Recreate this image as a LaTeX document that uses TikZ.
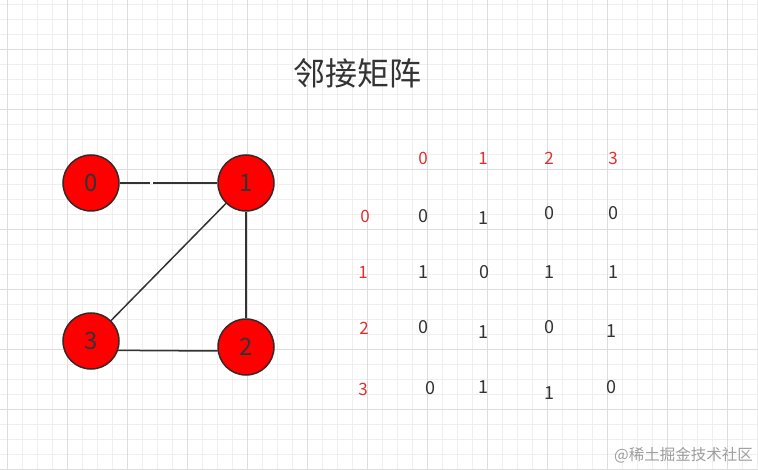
\documentclass[tikz,border=0pt]{standalone}
\usepackage{fontspec}
\setmainfont{Noto Sans CJK SC}
\newfontfamily\cjk{Noto Sans CJK SC}
\definecolor{minorgrid}{HTML}{EFEFEF}
\definecolor{majorgrid}{HTML}{DDDDDD}
\definecolor{ink}{HTML}{333333}
\definecolor{lab}{HTML}{E03030}
\definecolor{rim}{HTML}{3A2626}
\tikzset{
  vertex/.style={circle,fill=red,draw=rim,line width=1.5pt,minimum size=56pt,inner sep=0pt,text=ink,font=\fontsize{24}{24}\selectfont},
  edge/.style={draw=ink,line width=1.5pt},
  hdr/.style={text=lab,font=\fontsize{17}{17}\selectfont,inner sep=0pt},
  val/.style={text=ink,font=\fontsize{18}{18}\selectfont,inner sep=0pt}
}
\begin{document}
\begin{tikzpicture}[x=1pt,y=-1pt]
\useasboundingbox[fill=white] (0,0) rectangle (758,470);
% grid
\foreach \i in {0,...,50} {
  \draw[minorgrid,line width=0.8pt] ({7+15*\i},0) -- ({7+15*\i},470);
}
\foreach \j in {0,...,31} {
  \draw[minorgrid,line width=0.8pt] (0,{4+15*\j}) -- (758,{4+15*\j});
}
\foreach \i in {0,...,12} {
  \draw[majorgrid,line width=0.9pt] ({7+60*\i},0) -- ({7+60*\i},470);
}
\foreach \j in {0,...,7} {
  \draw[majorgrid,line width=0.9pt] (0,{49+60*\j}) -- (758,{49+60*\j});
}
% title
\node[text=ink,font=\cjk\fontsize{32}{32}\selectfont,inner sep=0pt] (title) at (357,73) {邻接矩阵};
% graph
\node[vertex] (n0) at (91,183) {0};
\node[vertex] (n1) at (246,183) {1};
\node[vertex] (n3) at (91,341) {3};
\node[vertex] (n2) at (246,347) {2};
\coordinate (g1) at (150,183);
\coordinate (g2) at (153,183);
\draw[edge] (n0) -- (g1);
\draw[edge] (g2) -- (n1);
\draw[edge] (n1) -- (n3);
\draw[edge] (n1.south) -- (n2.north);
\draw[edge] (n3.-19) -- (n2.188);
% matrix headers
\node[hdr] (c0) at (423,158) {0};
\node[hdr] (c1) at (483,158) {1};
\node[hdr] (c2) at (549,158) {2};
\node[hdr] (c3) at (613,158) {3};
\node[hdr] (r0) at (365,216) {0};
\node[hdr] (r1) at (363,272) {1};
\node[hdr] (r2) at (364,328) {2};
\node[hdr] (r3) at (363,389) {3};
% values
\node[val] (v00) at (423,216) {0};
\node[val] (v01) at (483,218) {1};
\node[val] (v02) at (549,213) {0};
\node[val] (v03) at (613,213) {0};
\node[val] (v10) at (423,272) {1};
\node[val] (v11) at (484,272) {0};
\node[val] (v12) at (549,272) {1};
\node[val] (v13) at (613,272) {1};
\node[val] (v20) at (423,327) {0};
\node[val] (v21) at (483,332) {1};
\node[val] (v22) at (549,327) {0};
\node[val] (v23) at (611,331) {1};
\node[val] (v30) at (430,388) {0};
\node[val] (v31) at (483,387) {1};
\node[val] (v32) at (549,393) {1};
\node[val] (v33) at (611,387) {0};
% watermark
\node[text=black!38,font=\cjk\fontsize{15.5}{16}\selectfont,inner sep=0pt,anchor=east] (wm) at (753,455) {@稀土掘金技术社区};
\end{tikzpicture}
\end{document}
